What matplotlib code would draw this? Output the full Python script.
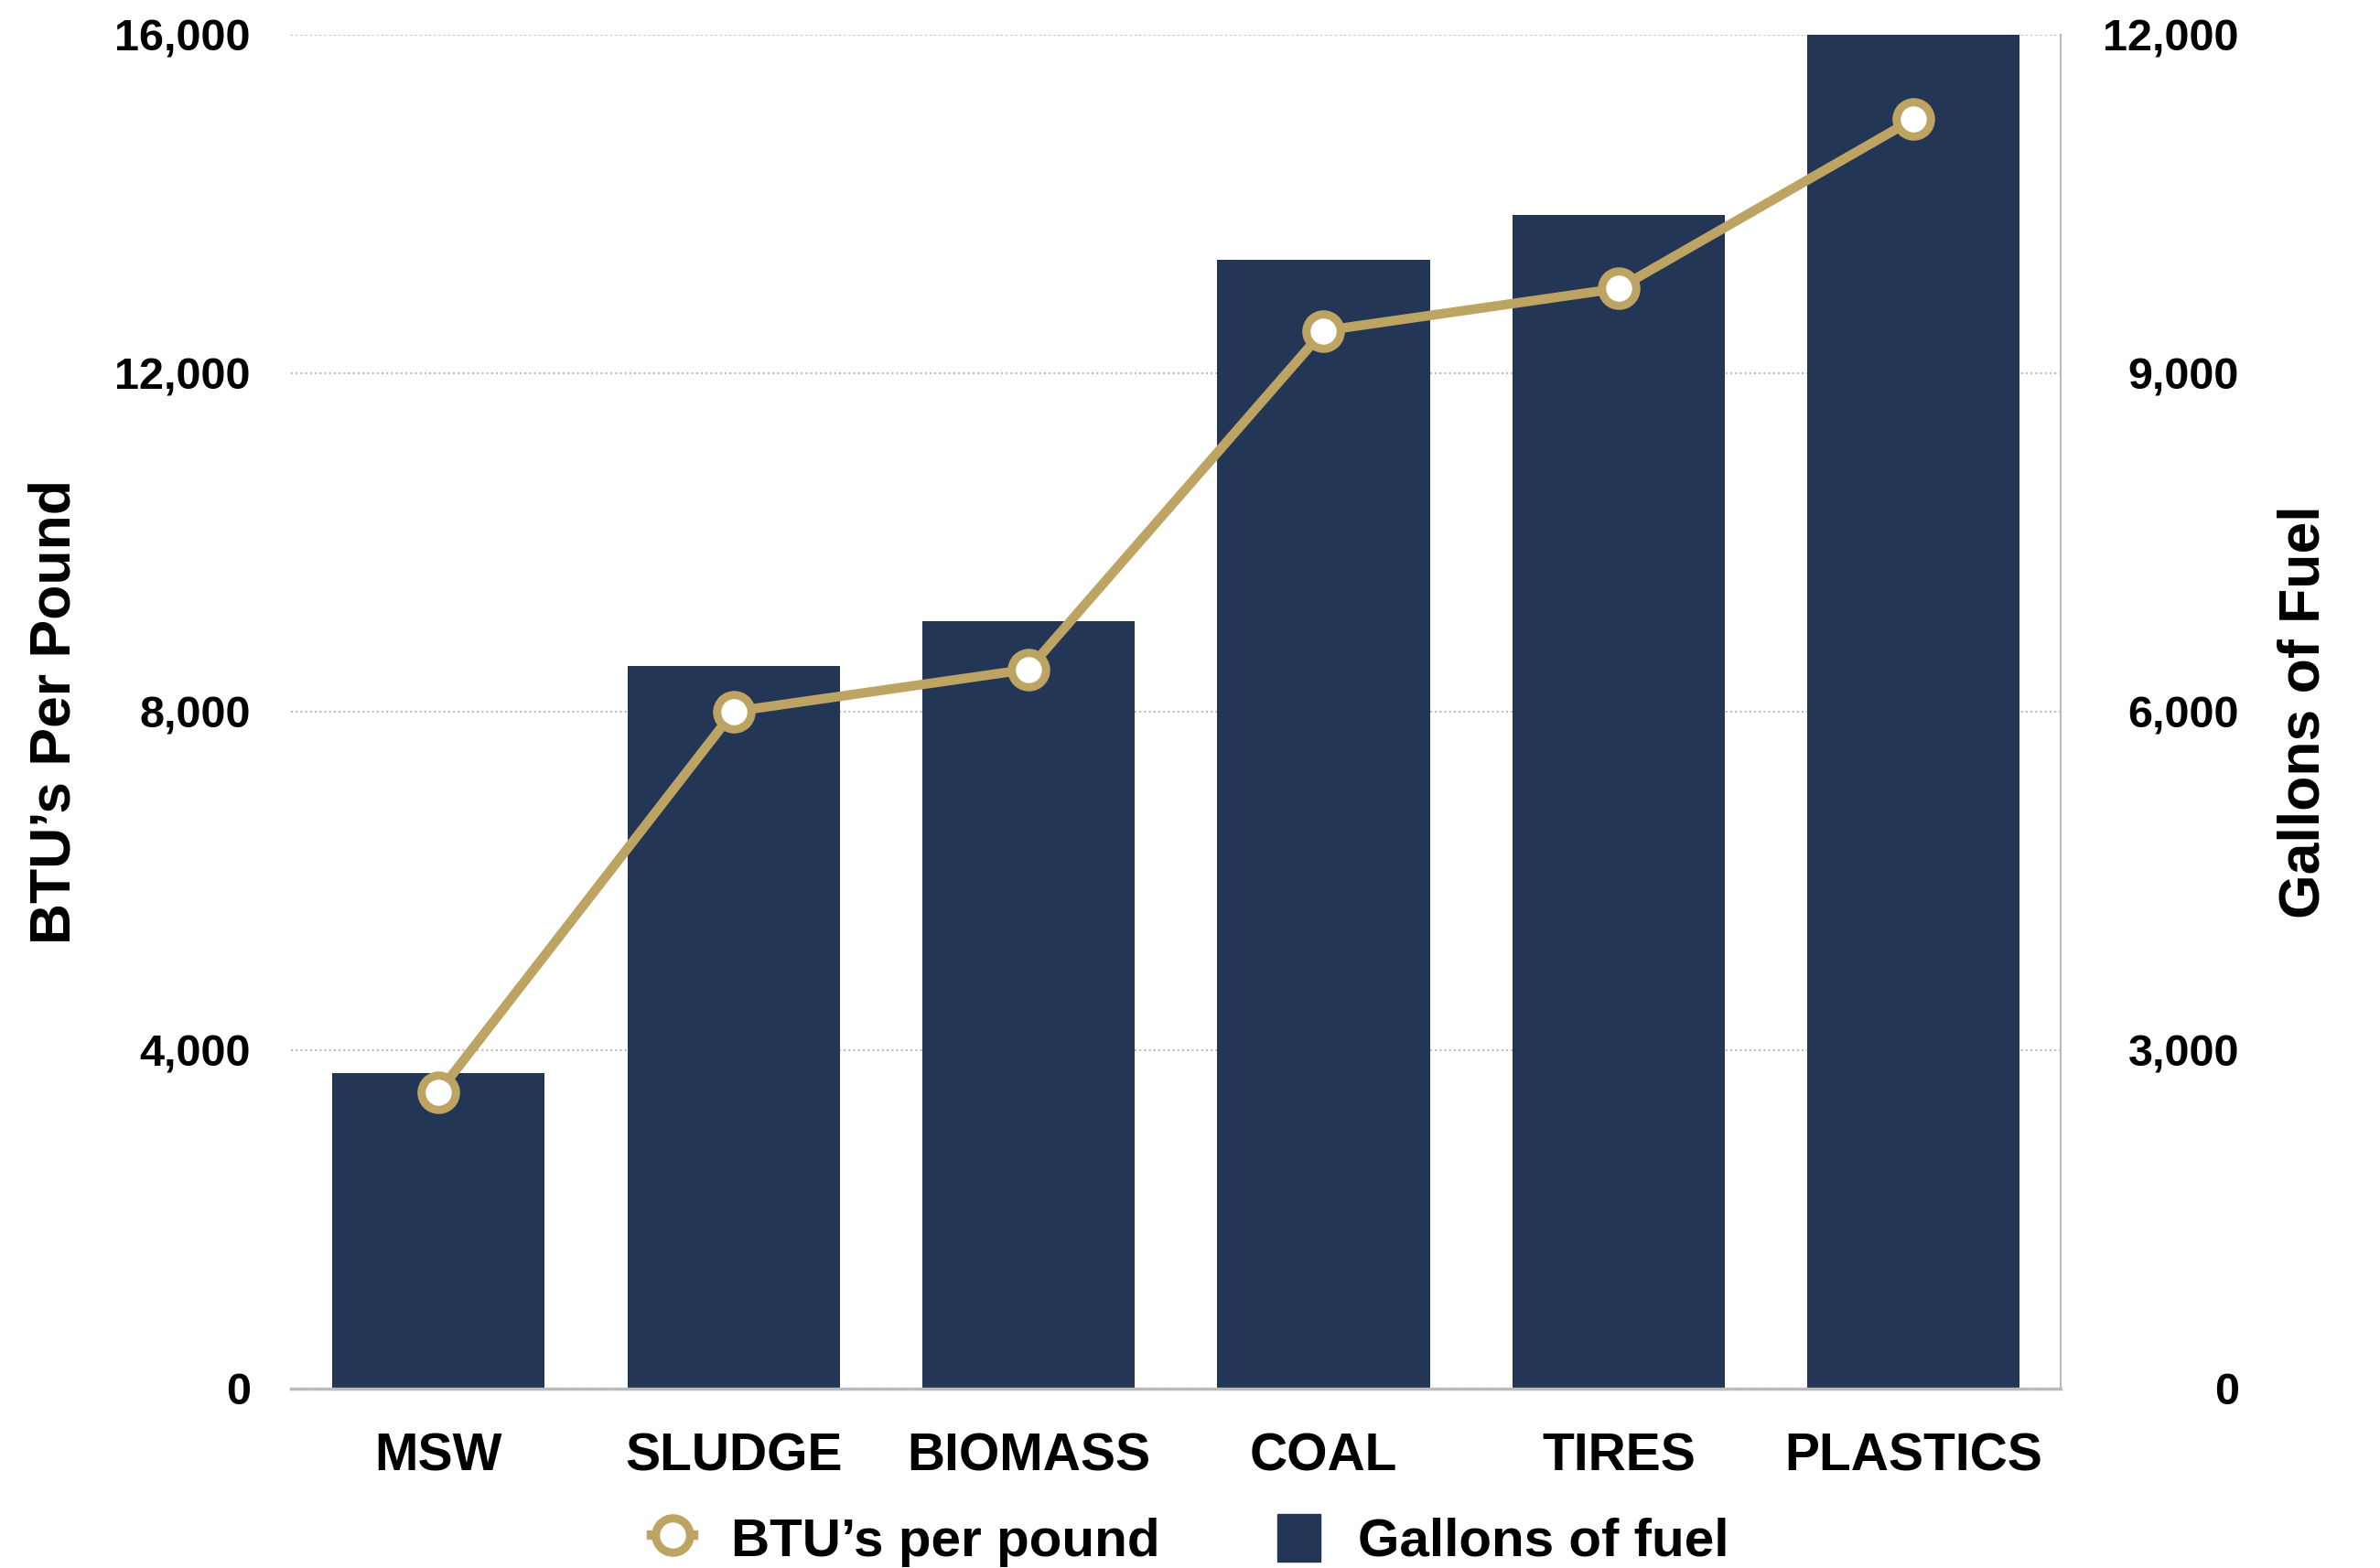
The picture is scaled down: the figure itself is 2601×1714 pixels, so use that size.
import matplotlib
matplotlib.use("Agg")
import matplotlib.pyplot as plt
from matplotlib.lines import Line2D
from matplotlib.patches import Patch
from matplotlib.ticker import FuncFormatter

# =====================================================
# DATA
# =====================================================

categories = ["MSW", "SLUDGE", "BIOMASS", "COAL", "TIRES", "PLASTICS"]
btu_per_pound = [3500, 8000, 8500, 12500, 13000, 15000]
gallons_of_fuel = [2800, 6400, 6800, 10000, 10400, 12000]

left_ticks = [0, 4000, 8000, 12000, 16000]
right_ticks = [0, 3000, 6000, 9000, 12000]

NAVY = "#243656"
GOLD = "#BDA462"
GRID = "#BBBBBB"

plt.rcParams["font.family"] = ["Liberation Sans", "DejaVu Sans"]
plt.rcParams["font.weight"] = "bold"

# =====================================================
# FIGURE
# =====================================================

fig = plt.figure(figsize=(26.01, 17.14), dpi=100)
ax = fig.add_axes([0.1223, 0.1144, 0.866 - 0.1223, 0.978 - 0.1144])

x = list(range(len(categories)))

# bars on the right scale (gallons)
ax.bar(x, gallons_of_fuel, width=0.72, color=NAVY, zorder=2)
ax.set_ylim(0, 12000)
ax.set_xlim(-0.5, len(categories) - 0.5)
ax.set_axisbelow(True)
ax.grid(axis="y", linestyle=(0, (1, 1.5)), color=GRID, linewidth=1.5)
ax.set_xticks(x)
ax.set_xticklabels(categories)

fmt = FuncFormatter(lambda v, p: f"{int(v):,}")

# line on the left scale (BTU)
ax2 = ax.twinx()
ax2.plot(x, btu_per_pound, color=GOLD, linewidth=7.5, marker="o",
         markersize=27, markerfacecolor="white", markeredgecolor=GOLD,
         markeredgewidth=6.5, zorder=3)
ax2.set_ylim(0, 16000)
ax2.set_yticks(left_ticks)
ax2.yaxis.tick_left()
ax2.yaxis.set_label_position("left")
ax2.yaxis.set_major_formatter(fmt)

# right axis belongs to the bars
ax.set_yticks(right_ticks)
ax.yaxis.tick_right()
ax.yaxis.set_label_position("right")
ax.yaxis.set_major_formatter(fmt)

# spines
for a in (ax, ax2):
    for s in a.spines.values():
        s.set_visible(False)
ax.spines["bottom"].set_visible(True)
ax.spines["bottom"].set_color(GRID)
ax.spines["bottom"].set_linewidth(2.5)
ax.spines["right"].set_visible(True)
ax.spines["right"].set_color(GRID)
ax.spines["right"].set_linewidth(1.5)

# ticks
ax.tick_params(axis="x", length=0, pad=34, labelsize=41)
ax.tick_params(axis="y", length=0, pad=140, labelsize=35)
for lbl in ax.get_yticklabels():
    lbl.set_horizontalalignment("right")
ax2.tick_params(axis="y", length=0, pad=32, labelsize=35)

# axis labels
ax2.set_ylabel("BTU\u2019s Per Pound", fontsize=45, fontweight="bold")
ax2.yaxis.set_label_coords(-0.118, 0.5)
ax.set_ylabel("Gallons of Fuel", fontsize=45, fontweight="bold", rotation=90)
ax.yaxis.set_label_coords(1.122, 0.5)

# legend
handles = [
    Line2D([0], [0], color=GOLD, linewidth=7.5, marker="o", markersize=27,
           markerfacecolor="white", markeredgecolor=GOLD, markeredgewidth=6.5),
    Patch(facecolor=NAVY, edgecolor=NAVY),
]
fig.legend(handles, ["BTU\u2019s per pound", "Gallons of fuel"],
           loc="lower center", bbox_to_anchor=(0.5, -0.03), ncol=2,
           frameon=False, fontsize=42, handlelength=0.8, handleheight=1.0,
           handletextpad=0.7, columnspacing=2.2)

plt.savefig("out.png", dpi=100)
plt.close()
